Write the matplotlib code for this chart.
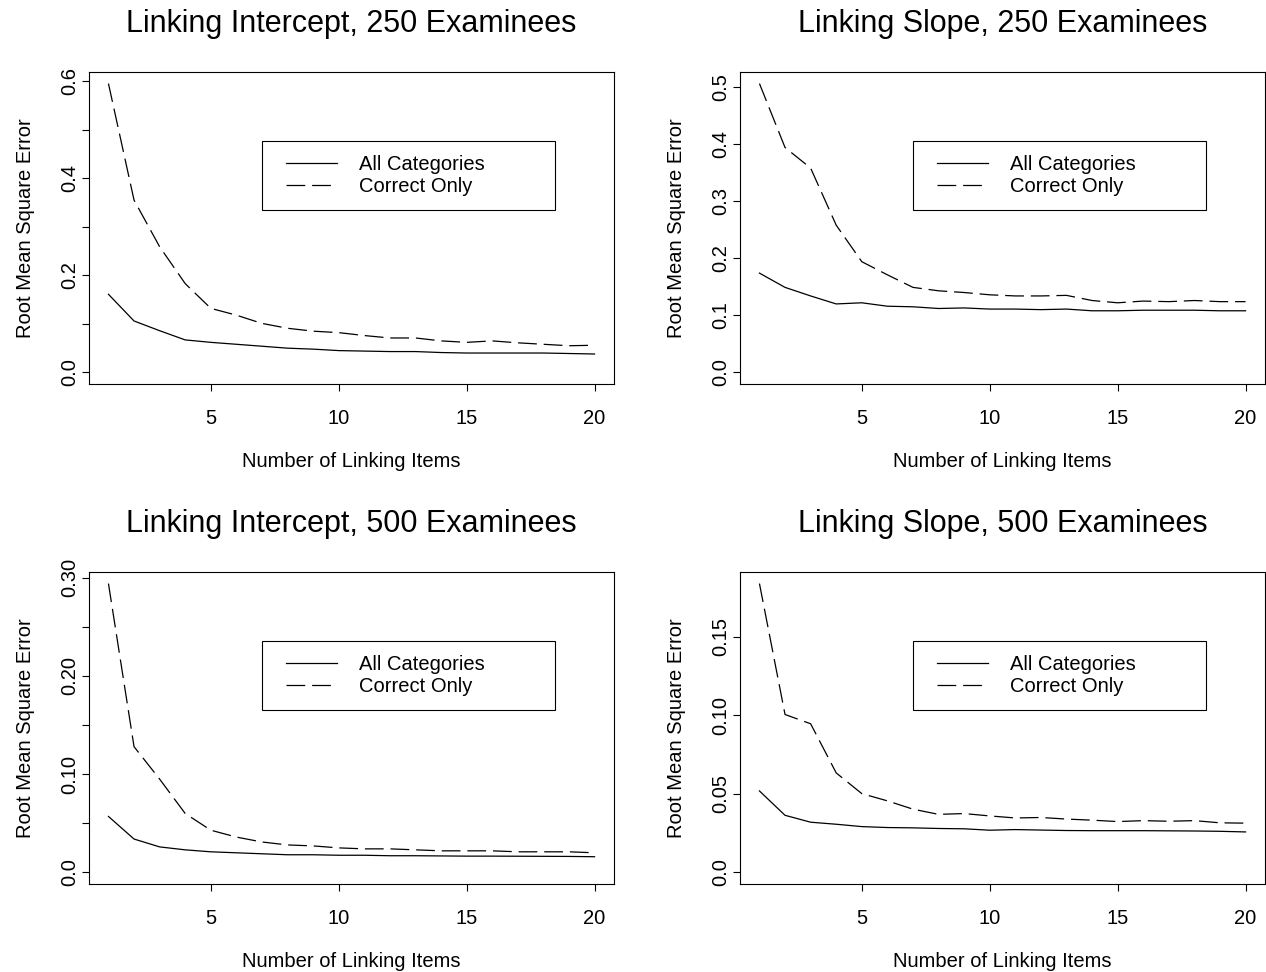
import numpy as np
import matplotlib
matplotlib.use('Agg')
import matplotlib.pyplot as plt
from matplotlib.lines import Line2D
from matplotlib.legend_handler import HandlerLine2D

# number of linking items
n_items = np.arange(1, 21)

# RMSE, linking intercept, 250 examinees
int250_all = [0.161, 0.106, 0.086, 0.067, 0.062, 0.058, 0.054, 0.050, 0.048, 0.045,
              0.044, 0.043, 0.043, 0.041, 0.040, 0.040, 0.040, 0.040, 0.039, 0.038]
int250_cor = [0.595, 0.355, 0.259, 0.183, 0.132, 0.118, 0.101, 0.091, 0.085, 0.082,
              0.076, 0.071, 0.071, 0.065, 0.062, 0.065, 0.061, 0.058, 0.055, 0.056]

# RMSE, linking slope, 250 examinees
slo250_all = [0.174, 0.149, 0.134, 0.120, 0.122, 0.116, 0.115, 0.112, 0.113, 0.111,
              0.111, 0.110, 0.111, 0.108, 0.108, 0.109, 0.109, 0.109, 0.108, 0.108]
slo250_cor = [0.506, 0.394, 0.358, 0.258, 0.194, 0.171, 0.149, 0.143, 0.140, 0.136,
              0.134, 0.134, 0.135, 0.126, 0.122, 0.125, 0.124, 0.126, 0.124, 0.124]

# RMSE, linking intercept, 500 examinees
int500_all = [0.057, 0.034, 0.026, 0.023, 0.021, 0.020, 0.019, 0.018, 0.018, 0.0175,
              0.0175, 0.017, 0.017, 0.0168, 0.0166, 0.0166, 0.0165, 0.0164, 0.0163, 0.016]
int500_cor = [0.294, 0.128, 0.095, 0.060, 0.043, 0.036, 0.031, 0.028, 0.027, 0.025,
              0.024, 0.024, 0.023, 0.022, 0.022, 0.022, 0.021, 0.021, 0.021, 0.020]

# RMSE, linking slope, 500 examinees
slo500_all = [0.0519, 0.0364, 0.0320, 0.0307, 0.0292, 0.0286, 0.0284, 0.0280, 0.0278, 0.0269,
              0.0273, 0.0270, 0.0267, 0.0266, 0.0266, 0.0266, 0.0265, 0.0264, 0.0262, 0.0258]
slo500_cor = [0.184, 0.1006, 0.0947, 0.0634, 0.0502, 0.0456, 0.0403, 0.0370, 0.0375, 0.0360,
              0.0347, 0.0350, 0.0340, 0.0333, 0.0324, 0.0330, 0.0326, 0.0330, 0.0316, 0.0314]

titles = ['Linking Intercept, 250 Examinees', 'Linking Slope, 250 Examinees',
          'Linking Intercept, 500 Examinees', 'Linking Slope, 500 Examinees']
series = [(int250_all, int250_cor), (slo250_all, slo250_cor),
          (int500_all, int500_cor), (slo500_all, slo500_cor)]
legend_labels = ['All Categories', 'Correct Only']
x_ticks = [5, 10, 15, 20]

# y ticks and the labels R kept
y_ticks = [[0.0, 0.1, 0.2, 0.3, 0.4, 0.5, 0.6],
           [0.0, 0.1, 0.2, 0.3, 0.4, 0.5],
           [0.0, 0.05, 0.10, 0.15, 0.20, 0.25, 0.30],
           [0.0, 0.05, 0.10, 0.15]]
y_labels = [['0.0', '', '0.2', '', '0.4', '', '0.6'],
            ['0.0', '0.1', '0.2', '0.3', '0.4', '0.5'],
            ['0.0', '', '0.10', '', '0.20', '', '0.30'],
            ['0.0', '0.05', '0.10', '0.15']]

fs = 14.5
plt.rc('font', family=['Liberation Sans', 'DejaVu Sans'], size=fs)
plt.rc('axes', linewidth=0.8)

fig = plt.figure(figsize=(12.66, 9.72), dpi=100)

# axes rectangles in figure fractions
W, H = 1266.0, 972.0
lefts = [89 / W, 740 / W]
bottoms = [1 - 384 / H, 1 - 884 / H]
aw = 525 / W
ah = 312 / H

for i in range(4):
    row, col = divmod(i, 2)
    ax = fig.add_axes([lefts[col], bottoms[row], aw, ah])
    all_cat, cor_only = series[i]
    ax.plot(n_items, all_cat, '-', color='black', lw=0.9)
    ax.plot(n_items, cor_only, color='black', lw=0.9, dashes=(15, 5.5))

    ymax = max(max(all_cat), max(cor_only))
    ax.set_ylim(-0.04 * ymax, 1.04 * ymax)
    ax.set_xlim(1 - 0.04 * 19, 20 + 0.04 * 19)

    ax.set_xticks(x_ticks)
    ax.set_yticks(y_ticks[i])
    ax.set_yticklabels(y_labels[i])
    ax.tick_params(direction='out', length=5, width=0.8, labelsize=fs)
    ax.tick_params(axis='x', pad=13)
    ax.tick_params(axis='y', pad=2, labelrotation=90)
    for lab in ax.get_yticklabels():
        lab.set_va('center')

    ax.set_title(titles[i], fontsize=22, pad=29)
    ax.set_xlabel('Number of Linking Items', fontsize=fs, labelpad=17)
    ax.set_ylabel('Root Mean Square Error', fontsize=fs, labelpad=18)

    # marker_pad leaves a gap before the legend line like R does
    leg = ax.legend(legend_labels, loc='upper left',
                    bbox_to_anchor=(0.3295, 0.564, 0.558, 0.215), mode='expand',
                    borderaxespad=0, fancybox=False, framealpha=1, edgecolor='black',
                    handlelength=3.5, handletextpad=0.6, borderpad=0.7,
                    labelspacing=0.15, fontsize=fs,
                    handler_map={Line2D: HandlerLine2D(numpoints=2, marker_pad=0.5)})
    leg.get_frame().set_linewidth(0.8)

fig.savefig('out.png', dpi=100)
